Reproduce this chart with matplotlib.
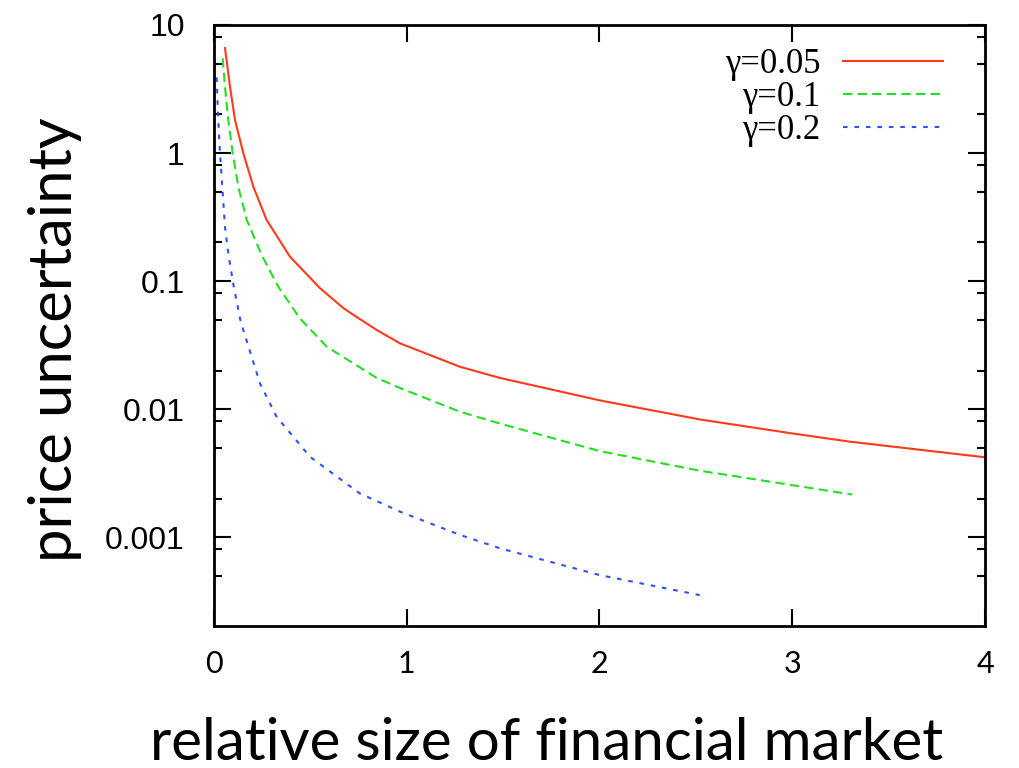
import matplotlib
matplotlib.use("Agg")
import matplotlib.pyplot as plt
from matplotlib.ticker import LogLocator, NullFormatter, FixedLocator

# datos
x_005 = [0.057, 0.083, 0.109, 0.152, 0.204, 0.273, 0.394, 0.55, 0.671, 0.731,
         0.844, 0.965, 1.276, 1.484, 2.0, 2.52, 3.0, 3.30, 4.0]
y_005 = [6.6, 3.30, 1.81, 1.0, 0.546, 0.30, 0.155, 0.088, 0.0615, 0.0535,
         0.0415, 0.0326, 0.0214, 0.0175, 0.0117, 0.0083, 0.00645, 0.00556, 0.0042]

x_01 = [0.045, 0.057, 0.074, 0.097, 0.126, 0.170, 0.247, 0.334, 0.446, 0.585,
        0.844, 0.965, 1.276, 1.484, 2.0, 2.52, 3.31]
y_01 = [5.5, 3.30, 1.81, 1.0, 0.546, 0.30, 0.16, 0.090, 0.051, 0.0307,
        0.0175, 0.0146, 0.00953, 0.0077, 0.0047, 0.0033, 0.00215]

x_02 = [0.014, 0.022, 0.031, 0.043, 0.057, 0.074, 0.10, 0.135, 0.152, 0.239,
        0.325, 0.498, 0.757, 0.965, 1.276, 1.484, 2.0, 2.52]
y_02 = [3.9, 1.81, 1.0, 0.546, 0.265, 0.164, 0.095, 0.051, 0.0414, 0.0158,
        0.0087, 0.00424, 0.00219, 0.00158, 0.00104, 0.000817, 0.000505, 0.000352]

etiquetas = ["γ=0.05", "γ=0.1", "γ=0.2"]
x_ticks = [0, 1, 2, 3, 4]
y_ticks = [10, 1, 0.1, 0.01, 0.001]
y_tick_labels = ["10", "1", "0.1", "0.01", "0.001"]

fig = plt.figure(figsize=(10.2, 7.68), dpi=100)
ax = fig.add_axes([214/1020, 1-626/768, 771/1020, 601/768])

ax.plot(x_005, y_005, color="#ff3a1a", lw=1.5, label=etiquetas[0])
ax.plot(x_01, y_01, color="#22e022", lw=1.5, dashes=(4.5, 2.5), label=etiquetas[1])
ax.plot(x_02, y_02, color="#3050ff", lw=1.5, dashes=(2.2, 3.3), label=etiquetas[2])

ax.set_yscale("log")
ax.set_xlim(0, 4)
ax.set_ylim(2.02e-4, 10)

ax.xaxis.set_major_locator(FixedLocator(x_ticks))
ax.set_yticks(y_ticks)
ax.set_yticklabels(y_tick_labels)
ax.yaxis.set_minor_locator(LogLocator(base=10, subs=(2, 5, 8), numticks=20))
ax.yaxis.set_minor_formatter(NullFormatter())

ax.tick_params(which="both", direction="in", top=True, right=True, width=1.5)
ax.tick_params(which="major", length=12)
ax.tick_params(which="minor", length=6)
ax.tick_params(axis="y", labelsize=23, pad=21)
ax.tick_params(axis="x", labelsize=22, pad=17)
for lab in ax.get_yticklabels():
    lab.set_family("Liberation Sans")
for lab in ax.get_xticklabels():
    lab.set_family("Lato")
for s in ax.spines.values():
    s.set_linewidth(2)

leg = ax.legend(loc="upper right", bbox_to_anchor=(0.9455, 0.962), frameon=False,
                markerfirst=False, prop={"family": "Liberation Serif", "size": 25},
                handlelength=2.88, handletextpad=0.66, labelspacing=0.0,
                borderpad=0, borderaxespad=0)

fig.text(547/1020, 1-760/768, "relative size of financial market", family="Lato",
         fontsize=42, ha="center", va="baseline")
fig.text(55/1020, 1-340/768, "price uncertainty", family="Lato",
         fontsize=43, ha="center", va="center", rotation=90)

fig.savefig("out.png", dpi=100)
